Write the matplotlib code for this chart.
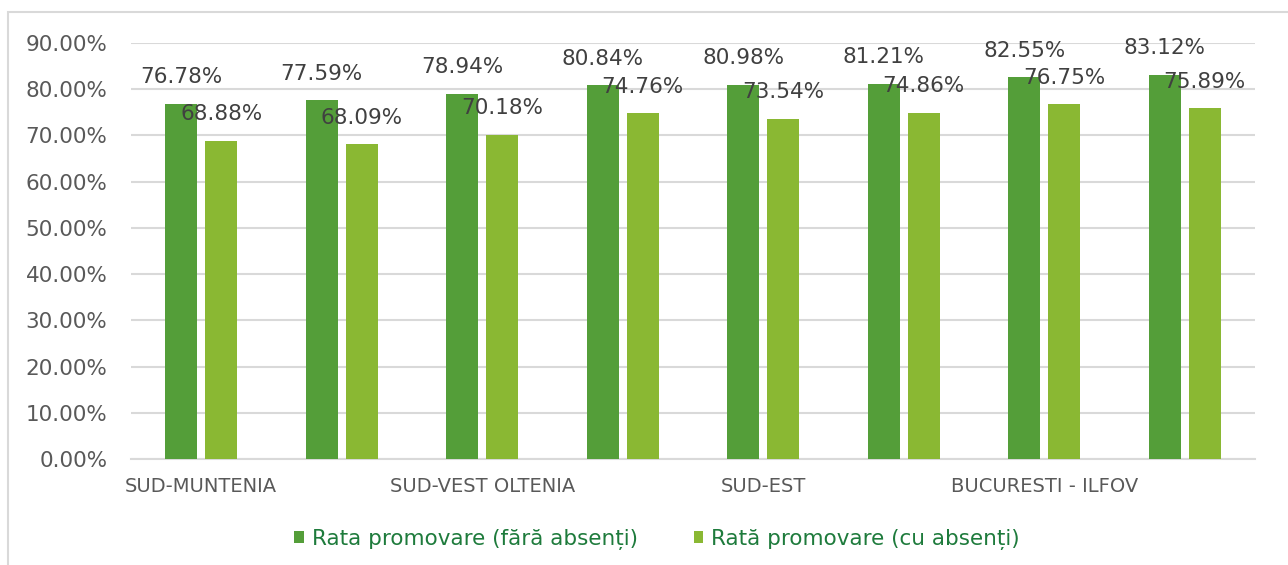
import numpy as np
import matplotlib
matplotlib.use("Agg")
import matplotlib.pyplot as plt
from matplotlib.patches import Rectangle

# regions (only every second label is shown on the axis, as in the original)
regions = ['SUD-MUNTENIA', 'NORD-EST', 'SUD-VEST OLTENIA', 'VEST',
           'SUD-EST', 'CENTRU', 'BUCURESTI - ILFOV', 'NORD-VEST']
rata_fara = [76.78, 77.59, 78.94, 80.84, 80.98, 81.21, 82.55, 83.12]
rata_cu = [68.88, 68.09, 70.18, 74.76, 73.54, 74.86, 76.75, 75.89]
series_names = ['Rata promovare (fără absenți)', 'Rată promovare (cu absenți)']
yticks = [0, 10, 20, 30, 40, 50, 60, 70, 80, 90]

dark = '#549E39'
light = '#8AB833'

fig = plt.figure(figsize=(12.88, 5.65), dpi=100)
fig.patches.append(Rectangle((8 / 1288, -0.1), 1.2, 1 - 12 / 565 + 0.1,
                             transform=fig.transFigure, fill=False,
                             edgecolor='#D9D9D9', linewidth=1.5))
ax = fig.add_axes([131 / 1288, 1 - 459 / 565, (1255 - 131) / 1288, (459 - 43) / 565])

x = np.arange(len(regions))
w = 0.228
off = 0.142
b1 = ax.bar(x - off, rata_fara, w, color=dark, label=series_names[0], zorder=3)
b2 = ax.bar(x + off, rata_cu, w, color=light, label=series_names[1], zorder=3)

for bars in (b1, b2):
    ax.bar_label(bars, labels=['%.2f%%' % v for v in bars.datavalues],
                 padding=12, fontsize=15.5, color='#404040', zorder=4)

ax.set_xlim(-0.5, len(regions) - 0.5)
ax.set_ylim(0, 90)
ax.set_yticks(yticks)
ax.set_yticklabels(['%.2f%%' % t for t in yticks], fontsize=15.5, color='#595959')
ax.set_xticks(x[::2])
ax.set_xticklabels(regions[::2], fontsize=14, color='#595959')
ax.tick_params(axis='both', length=0)
ax.tick_params(axis='x', pad=13)
ax.tick_params(axis='y', pad=17)
ax.grid(axis='y', color='#D9D9D9', linewidth=1.5, zorder=0)
for s in ['top', 'right', 'left']:
    ax.spines[s].set_visible(False)
ax.spines['bottom'].set_color('#D9D9D9')
ax.spines['bottom'].set_linewidth(1.5)

leg = fig.legend(loc='center', bbox_to_anchor=(0.51, 1 - 539 / 565), ncol=2,
                 frameon=False, handlelength=0.45, handleheight=0.45,
                 handletextpad=0.35, columnspacing=2.6,
                 prop={'size': 15.5})
for t in leg.get_texts():
    t.set_color('#1E7B3C')

fig.savefig('out.png', dpi=100)
